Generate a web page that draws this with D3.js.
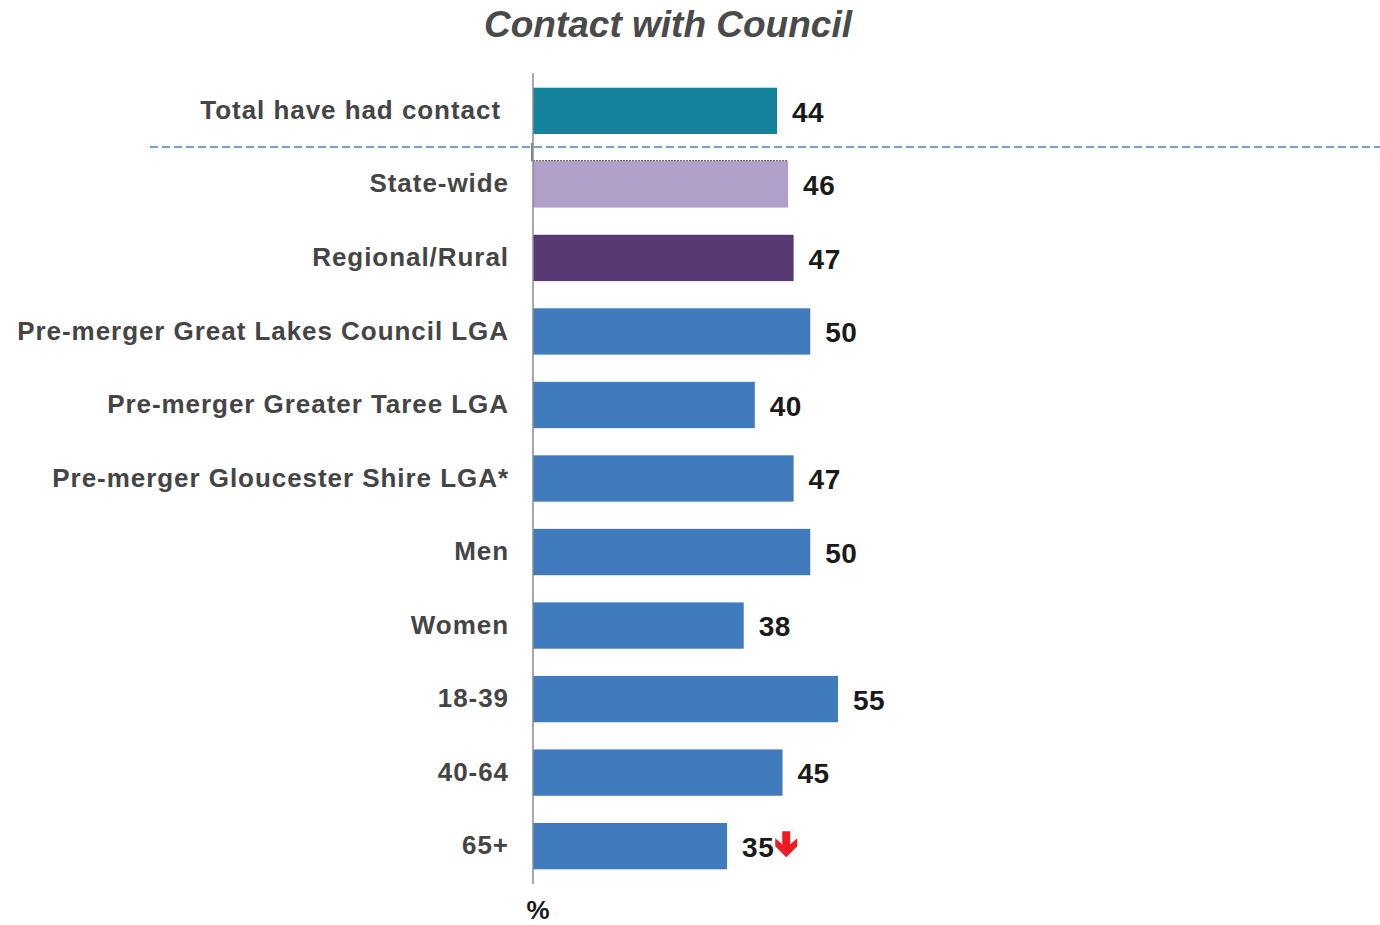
<!DOCTYPE html>
<html>
<head>
<meta charset="utf-8">
<script src="https://cdn.jsdelivr.net/npm/d3@7"></script>
<style>
  body { margin: 0; background: #fff; }
  svg { display: block; font-family: "Liberation Sans", Arial, sans-serif; }
</style>
</head>
<body>
<svg id="chart" width="1380" height="925"></svg>
<script>
// Share of residents who have had contact with Council (%)
const categories = [
  "Total have had contact",
  "State-wide",
  "Regional/Rural",
  "Pre-merger Great Lakes Council LGA",
  "Pre-merger Greater Taree LGA",
  "Pre-merger Gloucester Shire LGA*",
  "Men",
  "Women",
  "18-39",
  "40-64",
  "65+"
];
const values = [44, 46, 47, 50, 40, 47, 50, 38, 55, 45, 35];
const barColors = ["#13829A", "#B09FC8", "#573A73", "#3F7BBD", "#3F7BBD", "#3F7BBD",
                   "#3F7BBD", "#3F7BBD", "#3F7BBD", "#3F7BBD", "#3F7BBD"];
// significantly lower than the overall result
const lowerFlags = [false, false, false, false, false, false, false, false, false, false, true];

const svg = d3.select("#chart");

const x = d3.scaleLinear().domain([0, 100]).range([533, 533 + 554.5]);
const y = d3.scaleBand().domain(categories).range([73, 884]).paddingInner(0.37).paddingOuter(0.2);

// soft shadow for the separator line
const defs = svg.append("defs");
defs.append("filter").attr("id", "soft").attr("x", "-5%").attr("y", "-200%").attr("width", "110%").attr("height", "500%")
  .append("feGaussianBlur").attr("stdDeviation", 2.2);

// Title
svg.append("text")
  .attr("x", 668).attr("y", 37)
  .attr("text-anchor", "middle")
  .attr("font-size", 37).attr("font-weight", "bold").attr("font-style", "italic")
  .attr("fill", "#4A4A4A")
  .text("Contact with Council");

// Bars
svg.append("g").selectAll("rect").data(categories).join("rect")
  .attr("x", x(0))
  .attr("y", d => y(d))
  .attr("width", (d, i) => x(values[i]) - x(0))
  .attr("height", y.bandwidth())
  .attr("fill", (d, i) => barColors[i]);

// Separator between the total and the breakdowns
const sepY = 147;
svg.append("line")
  .attr("x1", 152).attr("x2", 1380).attr("y1", sepY + 5).attr("y2", sepY + 5)
  .attr("stroke", "#999").attr("stroke-width", 3).attr("opacity", 0.35)
  .attr("filter", "url(#soft)");
svg.append("line")
  .attr("x1", 150).attr("x2", 1380).attr("y1", sepY).attr("y2", sepY)
  .attr("stroke", "#4A7FC8").attr("stroke-width", 1.6)
  .attr("stroke-dasharray", "8,4");

// thin dark edge on top of the State-wide bar
svg.append("line")
  .attr("x1", x(0)).attr("x2", x(values[1]))
  .attr("y1", y(categories[1]) - 0.5).attr("y2", y(categories[1]) - 0.5)
  .attr("stroke", "#333").attr("stroke-width", 1.2).attr("stroke-dasharray", "2,1");
svg.append("line")
  .attr("x1", x(0) - 1).attr("x2", x(0) - 1)
  .attr("y1", sepY - 4).attr("y2", y(categories[1]))
  .attr("stroke", "#333").attr("stroke-width", 1.2);

// Vertical axis line
svg.append("line")
  .attr("x1", x(0)).attr("x2", x(0))
  .attr("y1", 73).attr("y2", 884)
  .attr("stroke", "#8C8C8C").attr("stroke-width", 1.5);

// Category labels
svg.append("g").selectAll("text").data(categories).join("text")
  .attr("x", (d, i) => i === 0 ? 501 : 509)
  .attr("y", d => y(d) + y.bandwidth() / 2 - 1)
  .attr("dy", "0.35em")
  .attr("text-anchor", "end")
  .attr("font-size", 26).attr("font-weight", "bold")
  .attr("letter-spacing", 0.95)
  .attr("fill", "#454545")
  .text(d => d);

// Value labels
const valueLabels = svg.append("g").selectAll("text").data(categories).join("text")
  .attr("x", (d, i) => x(values[i]) + 15)
  .attr("y", d => y(d) + y.bandwidth() / 2 + 1)
  .attr("dy", "0.35em")
  .attr("font-size", 28).attr("font-weight", "bold")
  .attr("letter-spacing", 0.5)
  .attr("fill", "#1A1A1A")
  .text((d, i) => values[i]);

// Down arrows for significantly lower results
valueLabels.each(function(d, i) {
  if (!lowerFlags[i]) return;
  const bb = this.getBBox();
  const ax = bb.x + bb.width + 12;
  const top = y(d) + y.bandwidth() / 2 - 15;
  svg.append("path")
    .attr("d", `M${ax - 4},${top} L${ax + 4},${top} L${ax + 4},${top + 13} L${ax + 11},${top + 7}
                L${ax + 11},${top + 15} L${ax},${top + 26} L${ax - 11},${top + 15} L${ax - 11},${top + 7}
                L${ax - 4},${top + 13} Z`)
    .attr("fill", "#ED1C24");
});

// Unit label
svg.append("text")
  .attr("x", 538).attr("y", 919)
  .attr("text-anchor", "middle")
  .attr("font-size", 26).attr("font-weight", "bold")
  .attr("fill", "#1A1A1A")
  .text("%");
</script>
</body>
</html>
